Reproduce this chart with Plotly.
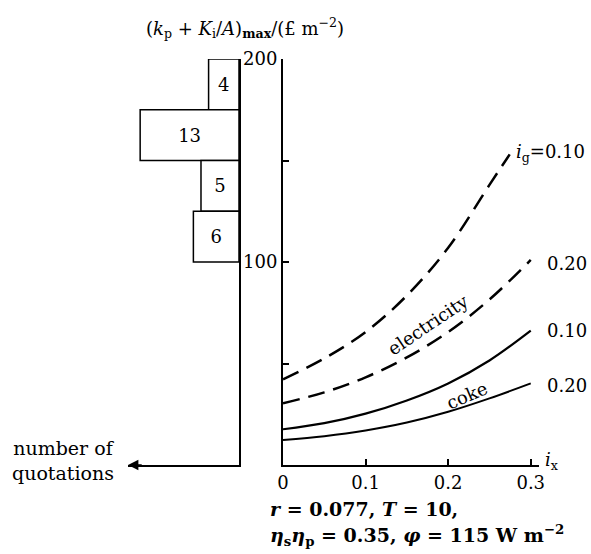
import plotly.graph_objects as go

# ---- data ----
bin_centres = [187.5, 162.5, 137.5, 112.5]
quotations = [4, 13, 5, 6]

ix = [0.0, 0.05, 0.10, 0.15, 0.20, 0.25, 0.30]
ix_e010 = [0.0, 0.05, 0.10, 0.15, 0.20, 0.25, 0.2745]
elec_010 = [42.2, 52.5, 65.5, 83.5, 107, 138, 153]
elec_020 = [30.4, 35.8, 43.2, 53.0, 65.5, 81.5, 101]
coke_010 = [17.6, 20.6, 25.3, 31.8, 40.2, 51.5, 66.2]
coke_020 = [12.3, 14.2, 17.0, 20.9, 26.2, 32.8, 40.2]

x_ticks = [0, 0.1, 0.2, 0.3]
x_ticktext = ["0", "0.1", "0.2", "0.3"]
y_ticks = [50, 100, 150, 200]
y_ticktext = ["", "100", "", "200"]

FONT = "DejaVu Serif"
W, H = 591, 554
OFF = 0  # body margin removed via post_script

def px(x):
    return (x - OFF) / W

def py(y):
    return 1 - (y - OFF) / H

fig = go.Figure()

fig.add_trace(go.Bar(
    x=quotations, y=bin_centres, width=25, orientation="h",
    xaxis="x2", yaxis="y2",
    marker=dict(color="white", line=dict(color="black", width=1.5)),
    text=[str(q) for q in quotations], textposition="inside",
    insidetextanchor="middle", constraintext="none",
    textfont=dict(family=FONT, size=18, color="black"),
    showlegend=False, hoverinfo="skip",
))

dash = "17px,9px"
fig.add_trace(go.Scatter(x=ix_e010, y=elec_010, mode="lines", line=dict(color="black", width=2.5, dash=dash, shape="spline"), showlegend=False))
fig.add_trace(go.Scatter(x=ix, y=elec_020, mode="lines", line=dict(color="black", width=2.5, dash=dash, shape="spline"), showlegend=False))
fig.add_trace(go.Scatter(x=ix, y=coke_010, mode="lines", line=dict(color="black", width=2.2, shape="spline"), showlegend=False))
fig.add_trace(go.Scatter(x=ix, y=coke_020, mode="lines", line=dict(color="black", width=2.0, shape="spline"), showlegend=False))

ydom = [py(465), py(59)]

common = dict(showgrid=False, zeroline=False, automargin=False)
fig.update_layout(
    width=W, height=H,
    margin=dict(l=0, r=0, t=0, b=0, pad=0, autoexpand=False),
    paper_bgcolor="white", plot_bgcolor="white",
    font=dict(family=FONT, size=18, color="black"),
    xaxis=dict(domain=[px(283), px(539)], range=[0, 0.31], anchor="y",
               showline=True, linecolor="black", linewidth=2,
               ticks="inside", ticklen=6, tickwidth=1.5, tickcolor="black",
               tickvals=x_ticks, ticktext=x_ticktext,
               tickfont=dict(family=FONT, size=18), **common),
    yaxis=dict(domain=ydom, range=[0, 200], anchor="x",
               showline=True, linecolor="black", linewidth=2,
               ticks="inside", ticklen=6, tickwidth=1.5, tickcolor="black",
               tickvals=y_ticks, ticktext=y_ticktext,
               tickfont=dict(family=FONT, size=18), **common),
    xaxis2=dict(domain=[px(128), px(239)], range=[14.6, 0], anchor="y2",
                showline=True, linecolor="black", linewidth=1.5,
                showticklabels=False, ticks="", **common),
    yaxis2=dict(domain=ydom, range=[0, 200], anchor="x2", side="right",
                showline=True, linecolor="black", linewidth=1.5,
                showticklabels=False, ticks="", **common),
)

def note(x, y, text, xref="paper", yref="paper", xanchor="center", yanchor="middle",
         size=18, **kw):
    d = dict(xref=xref, yref=yref, x=x, y=y, text=text, showarrow=False,
             xanchor=xanchor, yanchor=yanchor, font=dict(family=FONT, size=size, color="black"))
    d.update(kw)
    return d

ann = []
ann.append(dict(xref="x2", yref="y2", x=14.6, y=0, axref="x2", ayref="y2", ax=12.6, ay=0,
                text="", showarrow=True, arrowhead=2, arrowsize=1.3, arrowwidth=1.6,
                arrowcolor="black", standoff=0))
ann.append(note(px(245), py(28),
                "(<i>k</i><sub>p</sub> + <i>K</i><sub>i</sub>/<i>A</i>)<sub><b>max</b></sub>/(£ m<sup>−2</sup>)"))
ann.append(note(px(63), py(460), "number of<br>quotations", align="center", size=19))
ann.append(note(px(543), 2, "<i>i</i><sub>x</sub>", yref="y", xanchor="left"))
ann.append(note(px(514), 153.7, "<i>i</i><sub>g</sub>=0.10", yref="y", xanchor="left"))
ann.append(note(px(545), 99.5, "0.20", yref="y", xanchor="left"))
ann.append(note(px(545), 66.5, "0.10", yref="y", xanchor="left"))
ann.append(note(px(545), 39.4, "0.20", yref="y", xanchor="left"))
ann.append(note(0.176, 69, "electricity", xref="x", yref="y", textangle=-34))
ann.append(note(0.223, 34, "coke", xref="x", yref="y", textangle=-23))
ann.append(note(px(268), py(509), "<b><i>r</i> = 0.077, <i>T</i> = 10,</b>", xanchor="left", size=19))
ann.append(note(px(268), py(535),
                "<b><i>η</i><sub>s</sub><i>η</i><sub>p</sub> = 0.35, <i>φ</i> = 115 W m<sup>−2</sup></b>",
                xanchor="left", size=19))
fig.update_layout(annotations=ann)

fig.write_html(
    "out.html",
    config={"displayModeBar": False},
    post_script="document.body.style.margin='0';document.documentElement.style.overflow='hidden';document.body.style.overflow='hidden';",
)
